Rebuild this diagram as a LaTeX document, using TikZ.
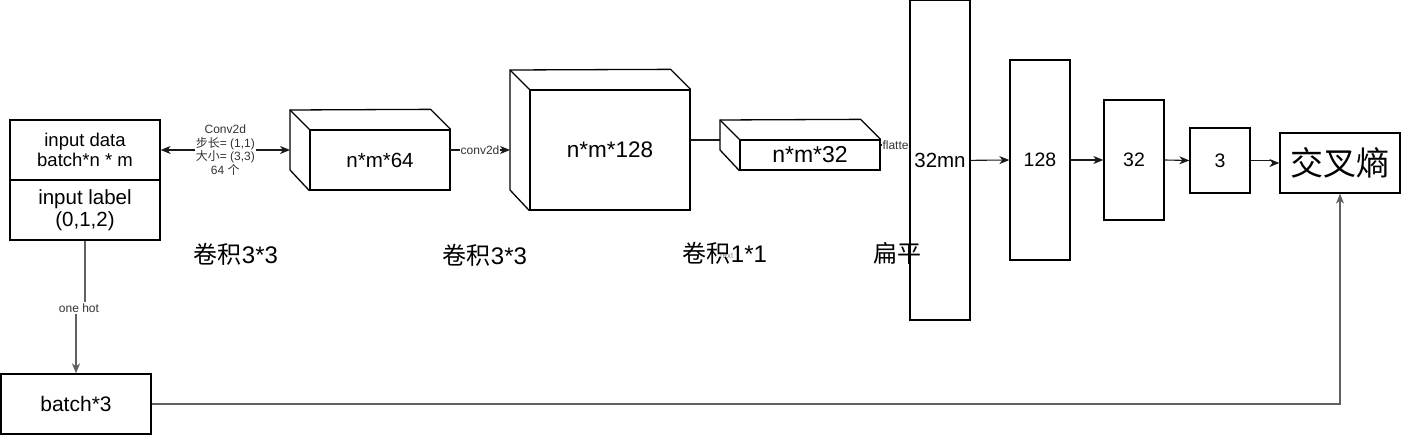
\documentclass[tikz,border=0pt]{standalone}
\usepackage{fontspec}
\setmainfont{Liberation Sans}
\newfontfamily\cjk{Noto Sans CJK SC}
\usetikzlibrary{arrows.meta}
\pgfdeclarelayer{bg}
\pgfsetlayers{bg,main}
\newcommand{\fsz}[1]{\fontsize{#1pt}{\dimexpr #1pt*115/100\relax}\selectfont}
\tikzset{
  box/.style={draw=black, line width=1.3pt, inner sep=0pt, align=center, fill=white, text=black},
  ghost/.style={inner sep=0pt, outer sep=0pt},
  ln/.style={draw=black!90, line width=1.1pt},
  tipx/.tip={Stealth[length=10pt,width=8pt,inset=3pt]},
  arr/.style={ln, -tipx},
  arrboth/.style={ln, tipx-tipx},
  lng/.style={draw=black!62, line width=1.2pt},
  arrg/.style={lng, -tipx},
  lbl/.style={fill=white, inner sep=1pt, text=black!80, align=center, font=\fsz{12}},
  captxt/.style={inner sep=0pt, text=black, font=\fsz{24}},
  cubeline/.style={draw=black, line width=1.3pt, line join=miter},
}
\begin{document}
\begin{tikzpicture}[x=1pt,y=-1pt]
\useasboundingbox (0,0) rectangle (1401,435);

% input box
\node[box, minimum width=150, minimum height=60, font=\fsz{18.5}] (inTop) at (85,150) {input data\\[-2pt]batch*n * m};
\node[box, minimum width=150, minimum height=60, font=\fsz{20.5}] (inBot) at (85,210) {input label\\[-1pt](0,1,2)};

% cube 1
\node[ghost, minimum width=160, minimum height=80] (c1) at (370,150) {};
\node[box, minimum width=140, minimum height=60, font=\fsz{20.5}] (c1f) at (380,160) {n*m*64};
\draw[cubeline] (c1f.north east) -- ++(-20,-20) -- (c1.north west) -- ++(0,60) -- (c1f.south west);
\draw[cubeline] (c1.north west) -- (c1f.north west);

% cube 2
\node[ghost, minimum width=180, minimum height=140] (c2) at (600,140) {};
\node[box, minimum width=160, minimum height=120, font=\fsz{22.5}] (c2f) at (610,150) {n*m*128};
\draw[cubeline] (c2f.north east) -- ++(-20,-20) -- (c2.north west) -- ++(0,120) -- (c2f.south west);
\draw[cubeline] (c2.north west) -- (c2f.north west);

% cube 3
\node[ghost, minimum width=160, minimum height=50] (c3) at (800,145) {};
\node[box, minimum width=140, minimum height=30, font=\fsz{23}] (c3f) at (810,155) {n*m*32};
\draw[cubeline] (c3f.north east) -- ++(-20,-20) -- (c3.north west) -- ++(0,30) -- (c3f.south west);
\draw[cubeline] (c3.north west) -- (c3f.north west);

% dense layers
\node[box, minimum width=60, minimum height=319.3, font=\fsz{20.5}] (fl) at (940,160.35) {32mn};
\node[box, minimum width=60, minimum height=200, font=\fsz{19.5}] (b128) at (1040,160) {128};
\node[box, minimum width=60, minimum height=120, font=\fsz{19.5}] (b32) at (1134,160) {32};
\node[box, minimum width=60, minimum height=65, font=\fsz{19.5}] (b3) at (1220,160.5) {3};
\node[box, minimum width=120, minimum height=60, font=\cjk\fsz{33}] (ce) at (1340,163) {交叉熵};
\node[box, minimum width=150, minimum height=60, font=\fsz{21}] (bt) at (76,404) {batch*3};

% connectors
\draw[arrboth] (inTop.east) -- (c1.west)
  node[midway, lbl, font=\fontsize{12pt}{13.7pt}\selectfont] {Conv2d\\{\cjk 步长}= (1,1)\\{\cjk 大小}= (3,3)\\64 {\cjk 个}};
\draw[arr] (c1.east) -- (c1.east -| c2.west) node[midway, lbl, inner sep=0.5pt] {conv2d};
\draw[ln] (c2.east) -- (c2.east -| c3.west);
\begin{pgfonlayer}{bg}
\draw[ln] (c3.east) -- (c3.east -| fl.west) node[pos=0.05, anchor=west, lbl, inner sep=0.5pt] {flatten};
\end{pgfonlayer}
\draw[arr] (fl.east) -- (b128.west);
\draw[arr] (b128.east) -- (b32.west);
\draw[arr] (b32.east) -- (b3.west);
\draw[arr] (b3.east) -- ++(22,0) |- (ce.west);
\coordinate (oh) at (79,308);
\draw[arrg] (inBot.south) |- (oh) -| (bt.north);
\node[lbl, inner sep=1.5pt] (ohl) at (oh) {one hot};
\draw[arrg] (bt.east) -| (ce.south);

% captions
\node[inner sep=0pt, text=black!45, font=\fsz{8}] (tx) at (726,256) {Text};
\node[captxt] (k1) at (236,254) {{\cjk 卷积}3*3};
\node[captxt] (k2) at (485,255) {{\cjk 卷积}3*3};
\node[captxt] (k3) at (725,253) {{\cjk 卷积}1*1};
\node[captxt] (k4) at (897,253) {\cjk 扁平};
\end{tikzpicture}
\end{document}
